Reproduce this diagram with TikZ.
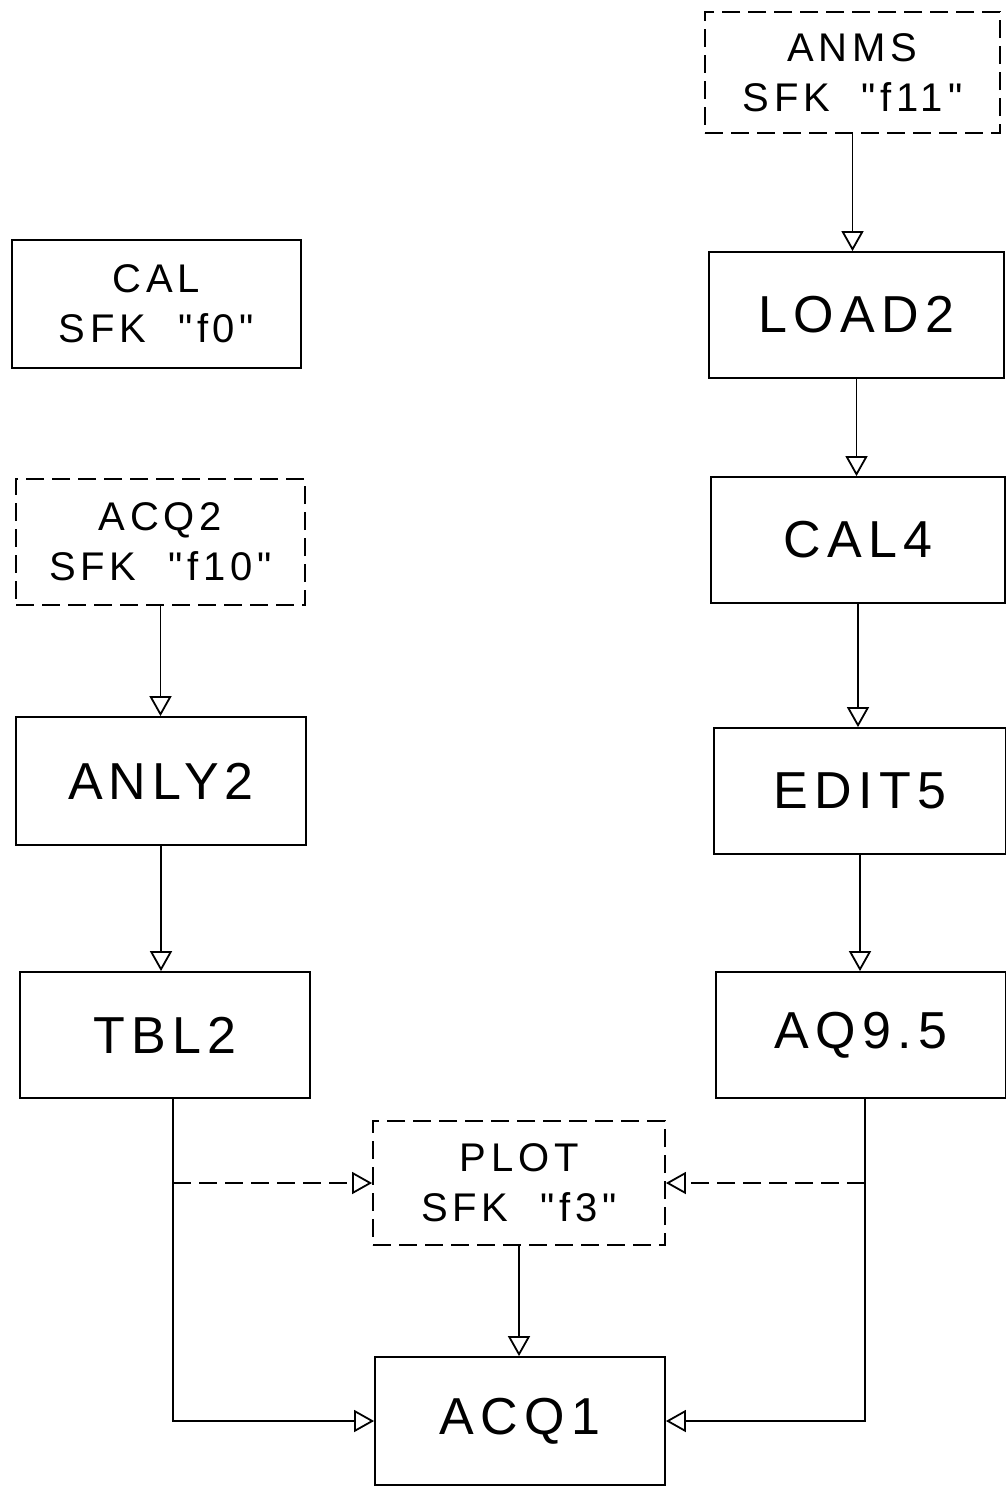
\documentclass[tikz,border=0pt]{standalone}
\usepackage{fontspec}
\setmainfont{Liberation Sans}[LetterSpace=12, Ligatures=TeXOff]
\usetikzlibrary{arrows.meta}
\begin{document}
\begin{tikzpicture}[x=1pt,y=-1pt,
  box/.style={draw, line width=1.8pt, minimum width=290pt, minimum height=126pt, inner sep=0pt, align=center},
  dbox/.style={box, dashed, dash pattern=on 18pt off 8pt},
  big/.style={font=\fontsize{52}{60}\selectfont},
  two/.style={font=\fontsize{40}{50}\selectfont},
  ln/.style={line width=1.8pt},
  arr/.style={ln, -{Triangle[open, length=20pt, width=22pt, line width=1.8pt]}},
  darr/.style={arr, dash pattern=on 18pt off 8pt}]
\useasboundingbox (0,0) rectangle (1006,1486);
\node[dbox, two, minimum width=295pt, minimum height=121pt] (anms) at (852.5,72.5) {ANMS\\SFK \ "f11"};
\node[box, two, minimum width=289pt, minimum height=128pt] (cal) at (156.5,304) {CAL\\SFK \ "f0"};
\node[box, big, minimum width=295pt] (load2) at (856.5,315) {LOAD2};
\node[dbox, two, minimum width=289pt] (acq2) at (160.5,542) {ACQ2\\SFK \ "f10"};
\node[box, big, minimum width=294pt] (cal4) at (858,540) {CAL4};
\node[box, big, minimum height=128pt] (anly2) at (161,781) {ANLY2};
\node[box, big, minimum width=292pt] (edit5) at (860,791) {EDIT5};
\node[box, big] (tbl2) at (165,1035) {TBL2};
\node[box, big] (aq95) at (861,1035) {AQ9.5};
\node[dbox, two, minimum width=292pt, minimum height=124pt] (plot) at (519,1183) {PLOT\\SFK \ "f3"};
\node[box, big, minimum height=128pt] (acq1) at (520,1421) {ACQ1};
\draw[arr] (anms.south) -- (anms.south |- load2.north);
\draw[arr] (load2.south) -- (load2.south |- cal4.north);
\draw[arr] (cal4.south) -- (cal4.south |- edit5.north);
\draw[arr] (edit5.south) -- (edit5.south |- aq95.north);
\draw[arr] (acq2.south) -- (acq2.south |- anly2.north);
\draw[arr] (anly2.south) -- (anly2.south |- tbl2.north);
\draw[arr] (plot.south) -- (plot.south |- acq1.north);
\coordinate (tl) at (173,1098);
\coordinate (tj) at (173,1183);
\coordinate (rl) at (865,1098);
\coordinate (rj) at (865,1183);
\draw[arr] (tl) |- (acq1.west);
\draw[darr] (tj) -- (plot.west);
\draw[arr] (rl) |- (acq1.east);
\draw[darr] (rj) -- (plot.east);
\end{tikzpicture}
\end{document}
